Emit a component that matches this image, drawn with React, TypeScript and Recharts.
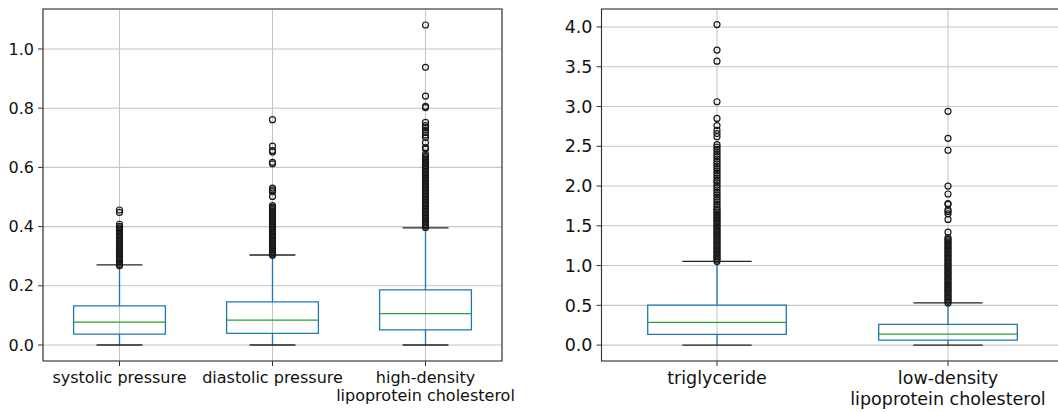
import React from "react";
import {
  ComposedChart,
  XAxis,
  YAxis,
  CartesianGrid,
  Scatter,
  ReferenceArea,
  ReferenceLine,
} from "recharts";

// left panel
const leftNames = [
  "systolic pressure",
  "diastolic pressure",
  "high-density\nlipoprotein cholesterol",
];
// [low whisker, q1, median, q3, high whisker]
const leftStats = [
  [0, 0.037, 0.077, 0.132, 0.271],
  [0, 0.039, 0.084, 0.146, 0.304],
  [0, 0.051, 0.106, 0.186, 0.396],
];
const systolicOut = [
  0.268, 0.272, 0.277, 0.281, 0.286, 0.29, 0.295, 0.299, 0.304, 0.309, 0.313,
  0.318, 0.322, 0.327, 0.332, 0.336, 0.341, 0.345, 0.35, 0.355, 0.359, 0.364,
  0.368, 0.373, 0.378, 0.382, 0.387, 0.392, 0.396, 0.401, 0.408, 0.448, 0.456,
];
const diastolicOut = [
  0.303, 0.308, 0.312, 0.317, 0.322, 0.326, 0.331, 0.336, 0.34, 0.345, 0.35,
  0.354, 0.359, 0.364, 0.368, 0.373, 0.378, 0.382, 0.387, 0.392, 0.396, 0.401,
  0.406, 0.41, 0.415, 0.42, 0.424, 0.429, 0.434, 0.438, 0.443, 0.448, 0.452,
  0.457, 0.462, 0.466, 0.471, 0.502, 0.518, 0.524, 0.53, 0.612, 0.617, 0.652,
  0.657, 0.672, 0.761,
];
const hdlOut = [
  0.397, 0.402, 0.407, 0.412, 0.417, 0.422, 0.427, 0.432, 0.437, 0.442, 0.447,
  0.452, 0.457, 0.462, 0.467, 0.472, 0.477, 0.482, 0.487, 0.492, 0.497, 0.502,
  0.507, 0.512, 0.517, 0.522, 0.527, 0.532, 0.537, 0.542, 0.547, 0.552, 0.557,
  0.562, 0.567, 0.572, 0.577, 0.582, 0.587, 0.592, 0.597, 0.602, 0.607, 0.612,
  0.617, 0.622, 0.627, 0.632, 0.637, 0.643, 0.662, 0.667, 0.683, 0.701, 0.709,
  0.718, 0.726, 0.734, 0.741, 0.752, 0.802, 0.806, 0.841, 0.938, 1.081,
];
const leftTicks = [0, 0.2, 0.4, 0.6, 0.8, 1.0];

// right panel
const rightNames = ["triglyceride", "low-density\nlipoprotein cholesterol"];
const rightStats = [
  [0, 0.134, 0.285, 0.503, 1.053],
  [0, 0.063, 0.138, 0.26, 0.532],
];
const trigOut = [
  1.05, 1.07, 1.09, 1.11, 1.13, 1.15, 1.17, 1.19, 1.21, 1.23, 1.25, 1.27, 1.29,
  1.31, 1.33, 1.35, 1.37, 1.39, 1.41, 1.43, 1.45, 1.47, 1.49, 1.51, 1.53, 1.55,
  1.57, 1.59, 1.61, 1.63, 1.65, 1.67, 1.69, 1.71, 1.74, 1.77, 1.8, 1.83, 1.86,
  1.89, 1.92, 1.95, 1.98, 2.01, 2.04, 2.07, 2.1, 2.13, 2.16, 2.19, 2.22, 2.25,
  2.28, 2.31, 2.34, 2.37, 2.4, 2.43, 2.46, 2.49, 2.52, 2.62, 2.66, 2.7, 2.76,
  2.85, 3.06, 3.57, 3.71, 4.03,
];
const ldlOut = [
  0.53, 0.55, 0.57, 0.59, 0.61, 0.63, 0.65, 0.67, 0.69, 0.71, 0.73, 0.75, 0.77,
  0.79, 0.81, 0.83, 0.85, 0.87, 0.89, 0.91, 0.93, 0.95, 0.97, 0.99, 1.01, 1.03,
  1.05, 1.07, 1.09, 1.11, 1.13, 1.15, 1.17, 1.19, 1.21, 1.23, 1.25, 1.27, 1.29,
  1.31, 1.33, 1.35, 1.42, 1.58, 1.65, 1.68, 1.7, 1.77, 1.78, 1.9, 2.0, 2.45,
  2.6, 2.94,
];
const rightTicks = [0, 0.5, 1.0, 1.5, 2.0, 2.5, 3.0, 3.5, 4.0];

const FONT = "'DejaVu Sans', sans-serif";
const TEXT = "#111";
const BLUE = "#1f77b4";
const GREEN = "#2ca02c";

const flier = (props: any) => (
  <circle
    cx={props.cx}
    cy={props.cy}
    r={3}
    fill="none"
    stroke="#1a1a1a"
    strokeWidth={1.2}
  />
);

type PanelProps = {
  names: string[];
  stats: number[][];
  outliers: number[][];
  yDomain: [number, number];
  yTicks: number[];
  fontSize: number;
  lineHeight: number;
  width: number;
  yAxisWidth: number;
  marginRight: number;
};

function BoxPanel(p: PanelProps) {
  const n = p.names.length;
  const xDomain: [number, number] = [0.5, n + 0.5];
  const points = p.outliers.flatMap((vals, i) =>
    vals.map((v) => ({ x: i + 1, y: v }))
  );

  const XTick = (t: any) => {
    const lines = p.names[t.payload.value - 1].split("\n");
    return (
      <text
        x={t.x}
        y={t.y}
        textAnchor="middle"
        fontSize={p.fontSize}
        fontFamily={FONT}
        fill={TEXT}
      >
        {lines.map((l, k) => (
          <tspan key={k} x={t.x} dy={k === 0 ? p.fontSize * 0.86 : p.lineHeight}>
            {l}
          </tspan>
        ))}
      </text>
    );
  };

  return (
    <ComposedChart
      width={p.width}
      height={412}
      margin={{ top: 9, right: p.marginRight, bottom: 0, left: 0 }}
    >
      <CartesianGrid stroke="#c6c6c6" strokeWidth={1.1} />
      <XAxis
        type="number"
        dataKey="x"
        domain={xDomain}
        ticks={p.names.map((_, i) => i + 1)}
        interval={0}
        allowDataOverflow
        height={51}
        axisLine={false}
        tickLine={{ stroke: "#333" }}
        tickSize={5}
        tickMargin={3}
        tick={XTick}
      />
      <YAxis
        type="number"
        dataKey="y"
        domain={p.yDomain}
        ticks={p.yTicks}
        interval={0}
        allowDataOverflow
        width={p.yAxisWidth}
        axisLine={false}
        tickLine={{ stroke: "#333" }}
        tickSize={5}
        tickMargin={4}
        tickFormatter={(v: number) => v.toFixed(1)}
        tick={{ fontSize: p.fontSize, fontFamily: FONT, fill: TEXT }}
      />
      {p.stats.map((s, i) => {
        const c = i + 1;
        return (
          <React.Fragment key={i}>
            <ReferenceLine
              segment={[{ x: c, y: s[0] }, { x: c, y: s[1] }]}
              stroke={BLUE}
              strokeWidth={1.3}
            />
            <ReferenceLine
              segment={[{ x: c, y: s[3] }, { x: c, y: s[4] }]}
              stroke={BLUE}
              strokeWidth={1.3}
            />
            <ReferenceLine
              segment={[{ x: c - 0.15, y: s[0] }, { x: c + 0.15, y: s[0] }]}
              stroke="#222"
              strokeWidth={1.3}
            />
            <ReferenceLine
              segment={[{ x: c - 0.15, y: s[4] }, { x: c + 0.15, y: s[4] }]}
              stroke="#222"
              strokeWidth={1.3}
            />
            <ReferenceArea
              x1={c - 0.3}
              x2={c + 0.3}
              y1={s[1]}
              y2={s[3]}
              fill="none"
              fillOpacity={0}
              stroke={BLUE}
              strokeWidth={1.3}
              ifOverflow="visible"
            />
            <ReferenceLine
              segment={[{ x: c - 0.3, y: s[2] }, { x: c + 0.3, y: s[2] }]}
              stroke={GREEN}
              strokeWidth={1.3}
            />
          </React.Fragment>
        );
      })}
      <Scatter
        data={points}
        dataKey="y"
        shape={flier}
        isAnimationActive={false}
      />
      <ReferenceArea
        x1={xDomain[0]}
        x2={xDomain[1]}
        y1={p.yDomain[0]}
        y2={p.yDomain[1]}
        fill="none"
        fillOpacity={0}
        stroke="#333"
        strokeWidth={1.1}
        ifOverflow="visible"
      />
    </ComposedChart>
  );
}

export default function App() {
  return (
    <div
      style={{
        position: "fixed",
        left: 0,
        top: 0,
        width: 1058,
        height: 412,
        overflow: "hidden",
        background: "#fff",
      }}
    >
      <div style={{ position: "absolute", left: 0, top: 0 }}>
        <BoxPanel
          names={leftNames}
          stats={leftStats}
          outliers={[systolicOut, diastolicOut, hdlOut]}
          yDomain={[-0.054, 1.135]}
          yTicks={leftTicks}
          fontSize={16}
          lineHeight={18}
          width={530}
          yAxisWidth={43}
          marginRight={28}
        />
      </div>
      <div style={{ position: "absolute", left: 530, top: 0 }}>
        <BoxPanel
          names={rightNames}
          stats={rightStats}
          outliers={[trigOut, ldlOut]}
          yDomain={[-0.2, 4.226]}
          yTicks={rightTicks}
          fontSize={17.5}
          lineHeight={21}
          width={540}
          yAxisWidth={71.5}
          marginRight={6.5}
        />
      </div>
    </div>
  );
}
